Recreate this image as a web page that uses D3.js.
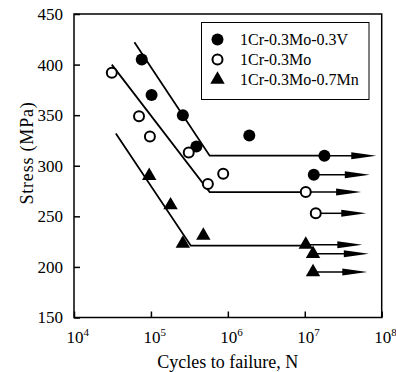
<!DOCTYPE html>
<html>
<head>
<meta charset="utf-8">
<script src="https://cdn.jsdelivr.net/npm/d3@7"></script>
<style>
  html, body { margin: 0; padding: 0; background: #fff; }
  svg text { font-family: "Liberation Serif", "Times New Roman", serif; fill: #000; }
</style>
</head>
<body>
<svg width="396" height="372"></svg>
<script>
// S-N data (N in cycles, stress in MPa)
const xTicks = [1e4, 1e5, 1e6, 1e7, 1e8];
const yTicks = [150, 200, 250, 300, 350, 400, 450];
const names = ['1Cr-0.3Mo-0.3V', '1Cr-0.3Mo', '1Cr-0.3Mo-0.7Mn'];

// broken specimens
const vPoints = [[7.6e4, 405], [1.02e5, 370], [2.6e5, 350], [3.9e5, 319], [1.9e6, 330]];
const moPoints = [[3.1e4, 392], [7.0e4, 349], [9.7e4, 329], [3.1e5, 313], [8.7e5, 292], [5.5e5, 282]];
const mnPoints = [[9.5e4, 290], [1.8e5, 261], [2.6e5, 223], [4.8e5, 231]];

// run-outs: [N, stress, arrow end N]
const vRunouts = [[1.8e7, 310, 8.5e7], [1.31e7, 291, 7.0e7]];
const moRunouts = [[1.03e7, 274, 5.4e7], [1.39e7, 253, 6.3e7]];
const mnRunouts = [[1.03e7, 222, 5.6e7], [1.28e7, 213, 6.8e7], [1.28e7, 195, 6.5e7]];

// fitted S-N lines
const vFit = [[6.1e4, 422], [5.8e5, 310], [1.8e7, 310]];
const moFit = [[3.1e4, 400], [5.8e5, 274], [1.03e7, 274]];
const mnFit = [[3.5e4, 332], [3.3e5, 221], [1.03e7, 221]];

const pLeft = 74, pRight = 381.7, pTop = 14, pBottom = 317.5;

const svg = d3.select('svg');

const x = d3.scaleLog().domain([1e4, 1e8]).range([pLeft, pRight]);
const y = d3.scaleLinear().domain([150, 450]).range([pBottom, pTop]);

// x axis
const xAxis = svg.append('g')
    .attr('transform', `translate(0,${pBottom})`)
    .call(d3.axisBottom(x).tickValues(xTicks).tickSizeInner(-6).tickSizeOuter(0).tickFormat(() => ''));
xAxis.select('.domain').remove();
xAxis.selectAll('.tick line').attr('stroke', '#000').attr('stroke-width', 1.5);
xAxis.selectAll('.tick text')
    .attr('text-anchor', 'start')
    .attr('x', -8)
    .attr('y', 25.5)
    .attr('dy', null)
    .attr('font-size', 17)
    .each(function(d) {
        const t = d3.select(this);
        t.append('tspan').text('10');
        t.append('tspan').attr('dy', -7).attr('font-size', 11).text(Math.round(Math.log10(d)));
    });

// y axis
const yAxis = svg.append('g')
    .attr('transform', `translate(${pLeft},0)`)
    .call(d3.axisLeft(y).tickValues(yTicks).tickSizeInner(-6).tickSizeOuter(0));
yAxis.select('.domain').remove();
yAxis.selectAll('.tick line').attr('stroke', '#000').attr('stroke-width', 1.5);
yAxis.selectAll('.tick text')
    .attr('x', -11)
    .attr('font-size', 17);

// frame
svg.append('rect')
    .attr('x', pLeft).attr('y', pTop)
    .attr('width', pRight - pLeft).attr('height', pBottom - pTop)
    .attr('fill', 'none').attr('stroke', '#000').attr('stroke-width', 1.5);

// axis titles
svg.append('text')
    .attr('x', (pLeft + pRight) / 2)
    .attr('y', 368)
    .attr('text-anchor', 'middle')
    .attr('font-size', 18)
    .text('Cycles to failure, N');

svg.append('text')
    .attr('transform', 'translate(33,153) rotate(-90)')
    .attr('text-anchor', 'middle')
    .attr('font-size', 18)
    .attr('letter-spacing', 0.8)
    .text('Stress (MPa)');

// fit lines
const line = d3.line().x(d => x(d[0])).y(d => y(d[1]));
[vFit, moFit, mnFit].forEach(f => {
    svg.append('path')
        .attr('d', line(f))
        .attr('fill', 'none')
        .attr('stroke', '#000')
        .attr('stroke-width', 1.8);
});

// run-out arrows
const arrows = svg.append('g');
[vRunouts, moRunouts, mnRunouts].forEach(rs => {
    rs.forEach(r => {
        const x0 = x(r[0]), x1 = x(r[2]), yy = y(r[1]);
        arrows.append('line')
            .attr('x1', x0).attr('x2', x1 - 20)
            .attr('y1', yy).attr('y2', yy)
            .attr('stroke', '#000').attr('stroke-width', 1.5);
        arrows.append('path')
            .attr('d', `M${x1 - 25},${yy - 3.5} L${x1},${yy} L${x1 - 25},${yy + 3.5} Z`)
            .attr('fill', '#000');
    });
});

// markers
const tri = d3.symbol(d3.symbolTriangle, 90);
function drawMarker(g, kind, px, py) {
    if (kind === 0) {
        g.append('circle').attr('cx', px).attr('cy', py).attr('r', 6).attr('fill', '#000');
    } else if (kind === 1) {
        g.append('circle').attr('cx', px).attr('cy', py).attr('r', 5)
            .attr('fill', '#fff').attr('stroke', '#000').attr('stroke-width', 2);
    } else {
        g.append('path').attr('d', tri()).attr('transform', `translate(${px},${py})`).attr('fill', '#000');
    }
}

const marks = svg.append('g');
[[vPoints, vRunouts], [moPoints, moRunouts], [mnPoints, mnRunouts]].forEach((s, k) => {
    s[0].concat(s[1]).forEach(d => drawMarker(marks, k, x(d[0]), y(d[1])));
});

// legend
const legend = svg.append('g');
legend.append('rect')
    .attr('x', 201.5).attr('y', 22.5)
    .attr('width', 167.5).attr('height', 77)
    .attr('fill', '#fff').attr('stroke', '#000').attr('stroke-width', 1);
names.forEach((n, i) => {
    const ly = 39.5 + i * 20;
    drawMarker(legend, i, 217.5, ly);
    legend.append('text')
        .attr('x', 240).attr('y', ly)
        .attr('dy', '0.35em')
        .attr('font-size', 16)
        .text(n);
});
</script>
</body>
</html>
